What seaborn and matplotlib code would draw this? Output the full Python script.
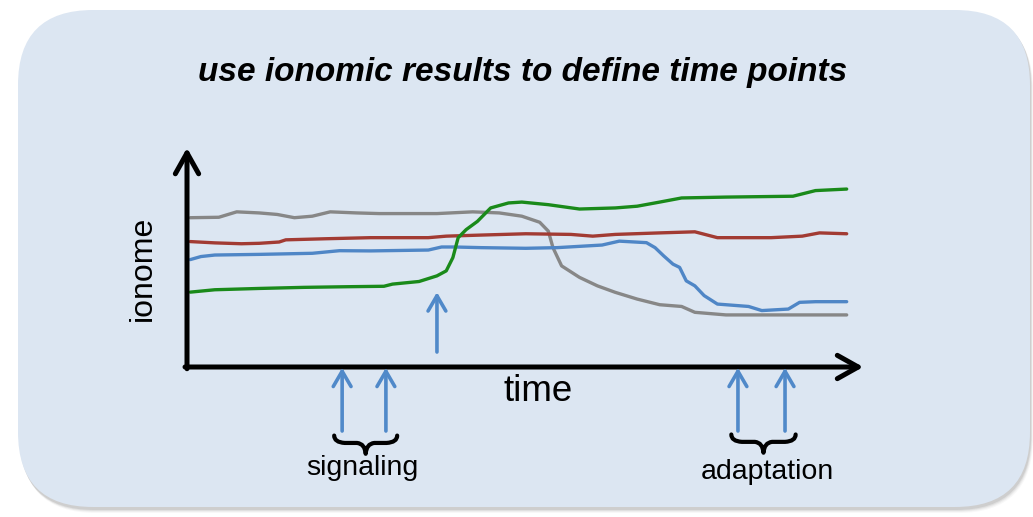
import matplotlib
matplotlib.use("Agg")
import matplotlib.pyplot as plt
import numpy as np
import seaborn as sns
from matplotlib.patches import FancyBboxPatch, PathPatch
from matplotlib.path import Path


# ionome traces (time 0-100, level 0-100)
gray_t = [0.5, 4.8, 7.5, 10.9, 13.6, 16.2, 18.9, 21.6, 25.6, 29.0, 37.7, 43.1, 47.1, 50.5,
          53.2, 54.5, 55.2, 56.5, 59.2, 61.9, 64.6, 67.9, 71.3, 74.6, 76.6, 81.3, 99.5]
gray_v = [68.8, 69.0, 71.5, 71.0, 70.3, 68.8, 69.5, 71.5, 71.0, 70.7, 70.7, 71.5, 71.0, 69.5,
          66.7, 62.6, 55.0, 46.6, 41.3, 37.4, 34.4, 31.3, 28.7, 27.9, 25.2, 24.0, 24.0]

red_t = [0.5, 4.2, 8.2, 10.9, 13.9, 14.9, 20.9, 27.7, 36.4, 39.1, 44.4, 51.1, 57.9, 61.2,
         64.6, 71.3, 76.6, 80.0, 88.1, 92.8, 95.4, 99.5]
red_v = [57.8, 57.2, 56.8, 57.0, 57.6, 58.6, 59.1, 59.6, 59.6, 60.3, 60.8, 61.4, 61.1, 60.3,
         61.1, 61.8, 62.3, 59.6, 59.6, 60.3, 61.8, 61.4]

blue_t = [0.5, 2.1, 4.2, 10.9, 18.9, 23.0, 27.7, 36.4, 38.4, 40.4, 44.4, 51.1, 55.8, 62.6,
          65.2, 69.3, 70.6, 71.9, 73.3, 74.3, 75.3, 76.6, 78.0, 80.0, 84.7, 86.7, 90.7, 92.4,
          94.8, 99.5]
blue_v = [49.5, 50.9, 51.6, 51.9, 52.4, 53.6, 53.5, 53.9, 55.3, 55.3, 55.0, 54.7, 55.0, 56.2,
          58.0, 57.3, 55.0, 51.2, 47.4, 45.9, 39.7, 37.4, 32.9, 29.0, 27.9, 26.0, 26.7, 29.8,
          30.1, 30.1]

green_t = [0.5, 4.2, 10.9, 17.6, 24.3, 29.7, 31.0, 35.0, 37.7, 39.1, 40.1, 40.9, 42.1, 43.8,
           45.8, 48.5, 50.5, 54.5, 59.2, 64.6, 67.9, 71.3, 74.6, 81.3, 91.4, 94.8, 99.5]
green_v = [34.5, 35.6, 36.2, 36.7, 37.0, 37.2, 38.2, 39.4, 42.0, 44.3, 50.4, 59.6, 63.3, 67.1,
           73.3, 75.6, 76.0, 74.8, 72.8, 73.3, 74.1, 76.0, 77.9, 78.3, 78.7, 81.3, 82.0]

# time points marked with arrows
onset_t = [37.7]
signal_t = [23.4, 30.0]
adapt_t = [83.1, 90.2]

trace_colors = {"gray": "#878787", "red": "#a23b33", "blue": "#4f86c6", "green": "#1a8a1a"}
arrow_color = "#5089c9"

sns.set_theme(style="white")
plt.rcParams["font.family"] = ["Liberation Sans", "DejaVu Sans"]
plt.rcParams["text.color"] = "black"

fig = plt.figure(figsize=(10.33, 5.17), dpi=100)
fig.patch.set_facecolor("white")

# background panel in pixel coordinates
bg = fig.add_axes([0, 0, 1, 1])
bg.set_xlim(0, 1033)
bg.set_ylim(517, 0)
bg.axis("off")
for i, a in enumerate([0.05, 0.08, 0.12, 0.18]):
    d = 5 - i
    bg.add_patch(FancyBboxPatch((18 + d * 0.6, 10 + d), 1012, 498,
                                boxstyle="round,pad=0,rounding_size=75",
                                fc="#7f7f7f", ec="none", alpha=a))
bg.add_patch(FancyBboxPatch((18, 10), 1012, 497, boxstyle="round,pad=0,rounding_size=75",
                            fc="#dce6f2", ec="none"))
bg.text(523, 73, "use ionomic results to define time points", ha="center", va="center",
        fontsize=24, fontweight="bold", fontstyle="italic", color="black")

ax = fig.add_axes([187 / 1033, 150 / 517, 663 / 1033, 217 / 517])
ax.patch.set_alpha(0)
ax.set_xlim(0, 100)
ax.set_ylim(0, 100)
ax.axis("off")

traces = [(gray_t, gray_v, "gray"), (red_t, red_v, "red"),
          (blue_t, blue_v, "blue"), (green_t, green_v, "green")]
for t, v, name in traces:
    sns.lineplot(x=t, y=v, color=trace_colors[name], lw=2.4, ax=ax, sort=False)

# axis arrows
ax.annotate("", xy=(1.02, 0), xytext=(-0.003, 0), xycoords="axes fraction",
            arrowprops=dict(arrowstyle="->,head_length=0.75,head_width=0.42",
                            lw=3.6, color="black", mutation_scale=20, shrinkA=0, shrinkB=0),
            annotation_clip=False)
ax.annotate("", xy=(0, 1.01), xytext=(0, -0.008), xycoords="axes fraction",
            arrowprops=dict(arrowstyle="->,head_length=0.75,head_width=0.42",
                            lw=3.6, color="black", mutation_scale=20, shrinkA=0, shrinkB=0),
            annotation_clip=False)


def up_arrow(x, y0, y1):
    ax.annotate("", xy=(x, y1), xytext=(x, y0),
                arrowprops=dict(arrowstyle="->,head_length=0.55,head_width=0.32",
                                lw=2.6, color=arrow_color, mutation_scale=20,
                                shrinkA=0, shrinkB=0),
                annotation_clip=False)


def brace(x1, x2, y):
    # curly brace pointing down; hooks rise 3.4 units, tip drops 5 units
    xm = (x1 + x2) / 2
    up, down = 3.4, 5.0
    qe, qm = 1.6, 1.3
    verts = [(x1, y + up), (x1, y + 0.3), (x1 + qe, y),
             (xm - qm, y), (xm - 0.1, y - 0.4), (xm, y - down),
             (xm + 0.1, y - 0.4), (xm + qm, y),
             (x2 - qe, y), (x2, y + 0.3), (x2, y + up)]
    codes = [Path.MOVETO, Path.CURVE3, Path.CURVE3,
             Path.LINETO, Path.CURVE3, Path.CURVE3,
             Path.CURVE3, Path.CURVE3,
             Path.LINETO, Path.CURVE3, Path.CURVE3]
    ax.add_patch(PathPatch(Path(verts, codes), fc="none", ec="black", lw=3.0,
                           clip_on=False, capstyle="round", joinstyle="round"))


for x in onset_t:
    up_arrow(x, 6.9, 34.5)
for x in signal_t + adapt_t:
    up_arrow(x, -29.5, -0.3)

brace(signal_t[0] - 1.2, signal_t[1] + 1.7, -35.0)
brace(adapt_t[0] - 1.0, adapt_t[1] + 1.6, -34.5)

ax.text(np.mean(signal_t) - 0.2, -46.5, "signaling", ha="center", va="center", fontsize=20.5)
ax.text(np.mean(adapt_t) + 0.9, -48.6, "adaptation", ha="center", va="center", fontsize=20.5)
ax.text(52.9, -11.5, "time", ha="center", va="center", fontsize=26.5)
ax.text(-6.6, 45.6, "ionome", ha="center", va="center", rotation=90, fontsize=23)

fig.savefig("out.png", dpi=100, facecolor="white")
